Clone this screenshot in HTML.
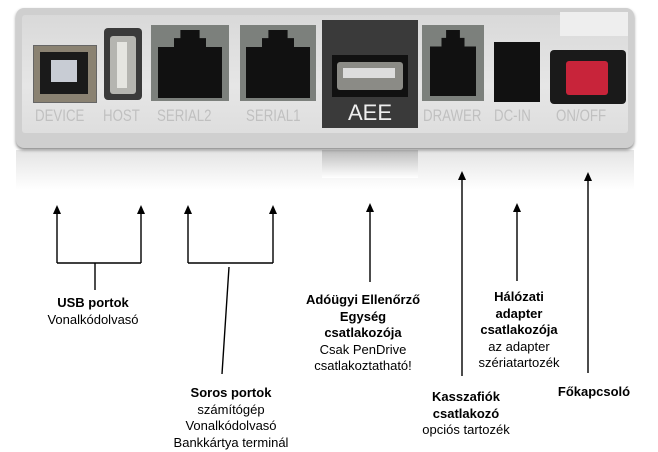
<!DOCTYPE html>
<html><head><meta charset="utf-8"><style>
body{margin:0;width:658px;height:452px;background:#fff;position:relative;overflow:hidden;font-family:"Liberation Sans",Arial,sans-serif}
.a{position:absolute}
.panel{left:16px;top:8px;width:618px;height:140px;border-radius:8px;background:#cfcfcf;box-shadow:0 2px 3px #888}
.inner{left:22px;top:15px;width:606px;height:118px;background:linear-gradient(#d9d9d9,#e6e6e6 60%,#dedede);border-radius:3px}
.lbl{color:#c0c0c0;font-size:17px;top:106px;transform:scaleX(0.78);transform-origin:left}
.t{position:absolute;font-size:13px;line-height:16.5px;text-align:center;color:#000;transform:translateX(-50%);white-space:nowrap}
.t b{font-weight:bold}
</style></head><body>
<div class="a" style="left:16px;top:150px;width:618px;height:40px;background:linear-gradient(#e4e4e4,#fff)"></div>
<div class="a" style="left:322px;top:150px;width:96px;height:28px;background:linear-gradient(#bbb,#fff)"></div>
<div class="a panel"></div>
<div class="a inner"></div>
<div class="a" style="left:560px;top:12px;width:68px;height:24px;background:#eee"></div>
<div class="a" style="left:33px;top:45px;width:62px;height:56px;background:#8a8272;border:1px solid #666"></div>
<div class="a" style="left:40px;top:52px;width:48px;height:42px;background:#1a1a1a"></div>
<div class="a" style="left:51px;top:60px;width:26px;height:22px;background:#c8ccd4"></div>
<div class="a" style="left:104px;top:28px;width:38px;height:72px;background:#3a3a3a;border-radius:4px"></div>
<div class="a" style="left:110px;top:36px;width:26px;height:58px;background:#b5b5b0;border-radius:3px"></div>
<div class="a" style="left:117px;top:42px;width:10px;height:46px;background:#e5e5e0"></div>
<div class="a" style="left:151px;top:25px;width:78px;height:76px;background:#7c807c"></div>
<div class="a" style="left:158px;top:30px;width:64px;height:68px;background:#111;clip-path:polygon(35% 0,65% 0,65% 12%,75% 12%,75% 25%,100% 25%,100% 100%,0 100%,0 25%,25% 25%,25% 12%,35% 12%)"></div>
<div class="a" style="left:240px;top:25px;width:76px;height:76px;background:#7c807c"></div>
<div class="a" style="left:246px;top:30px;width:64px;height:68px;background:#111;clip-path:polygon(35% 0,65% 0,65% 12%,75% 12%,75% 25%,100% 25%,100% 100%,0 100%,0 25%,25% 25%,25% 12%,35% 12%)"></div>
<div class="a" style="left:322px;top:20px;width:96px;height:108px;background:#3a3a3a"></div>
<div class="a" style="left:332px;top:55px;width:76px;height:42px;background:#111"></div>
<div class="a" style="left:337px;top:62px;width:66px;height:28px;background:#8b8b86;border-radius:3px"></div>
<div class="a" style="left:343px;top:68px;width:52px;height:10px;background:#ddd"></div>
<div class="a" style="left:322px;top:100px;width:96px;text-align:center;color:#eee;font-size:22px">AEE</div>
<div class="a" style="left:422px;top:25px;width:62px;height:76px;background:#7c807c"></div>
<div class="a" style="left:430px;top:30px;width:46px;height:66px;background:#111;clip-path:polygon(35% 0,65% 0,65% 12%,75% 12%,75% 25%,100% 25%,100% 100%,0 100%,0 25%,25% 25%,25% 12%,35% 12%)"></div>
<div class="a" style="left:494px;top:42px;width:46px;height:60px;background:#111"></div>
<div class="a" style="left:550px;top:50px;width:76px;height:54px;background:#1a1a1a;border-radius:4px"></div>
<div class="a" style="left:566px;top:61px;width:42px;height:34px;background:#c8243a;border-radius:3px"></div>
<div class="a lbl" style="left:35px">DEVICE</div>
<div class="a lbl" style="left:103px">HOST</div>
<div class="a lbl" style="left:157px">SERIAL2</div>
<div class="a lbl" style="left:246px">SERIAL1</div>
<div class="a lbl" style="left:423px">DRAWER</div>
<div class="a lbl" style="left:494px">DC-IN</div>
<div class="a lbl" style="left:556px">ON/OFF</div>

<svg class="a" style="left:0;top:0" width="658" height="452">
<g stroke="#000" stroke-width="1.4" fill="none">
<path d="M57,263 V212 M141,263 V212 M188,263 V212 M273,263 V212"/>
<path d="M57,263 H141 M95,263 V290 M188,263 H273 M229,267 L222,374"/>
<path d="M370,282 V210 M462,376 V178 M517,281 V210 M588,373 V179"/>
</g>
<g fill="#000">
<polygon points="57,205 53,214 61,214"/>
<polygon points="141,205 137,214 145,214"/>
<polygon points="188,205 184,214 192,214"/>
<polygon points="273,205 269,214 277,214"/>
<polygon points="370,203 366,212 374,212"/>
<polygon points="462,171 458,180 466,180"/>
<polygon points="517,203 513,212 521,212"/>
<polygon points="588,172 584,181 592,181"/>
</g></svg>
<div class="t" style="left:93px;top:295px"><b>USB portok</b><br>Vonalkódolvasó</div>
<div class="t" style="left:231px;top:385px"><b>Soros portok</b><br>számítógép<br>Vonalkódolvasó<br>Bankkártya terminál</div>
<div class="t" style="left:363px;top:292px"><b>Adóügyi Ellenőrző<br>Egység<br>csatlakozója</b><br>Csak PenDrive<br>csatlakoztatható!</div>
<div class="t" style="left:519px;top:289px"><b>Hálózati<br>adapter<br>csatlakozója</b><br>az adapter<br>szériatartozék</div>
<div class="t" style="left:466px;top:389px"><b>Kasszafiók<br>csatlakozó</b><br>opciós tartozék</div>
<div class="t" style="left:594px;top:384px"><b>Főkapcsoló</b></div>
</body></html>
